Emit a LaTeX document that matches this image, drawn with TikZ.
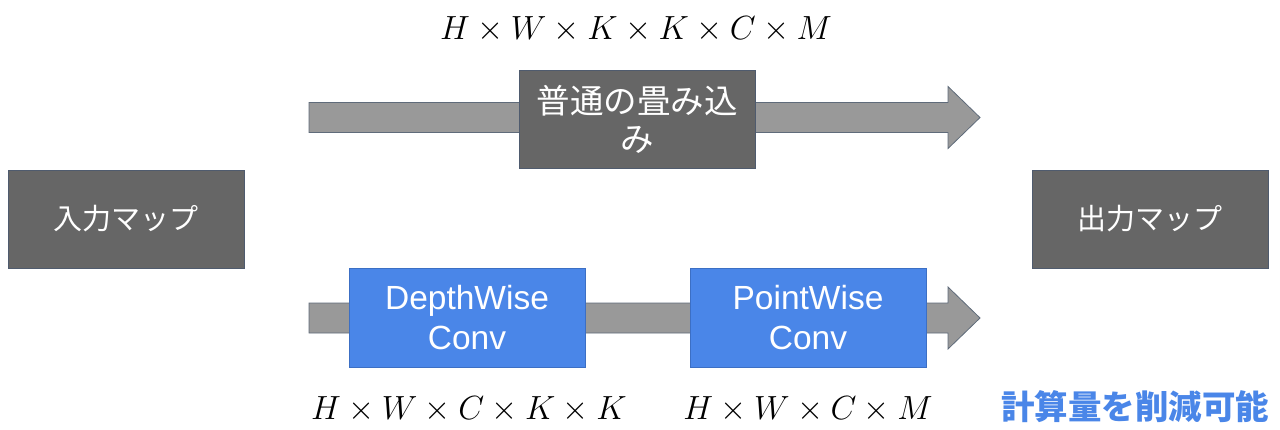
\documentclass[tikz,border=0pt]{standalone}
\usepackage{fix-cm}
\usepackage{fontspec}
\usetikzlibrary{calc}
\setsansfont{Liberation Sans}
\newfontfamily\jp{Noto Sans CJK JP}
\definecolor{boxgray}{HTML}{666666}
\definecolor{boxedge}{HTML}{4F5B6E}
\definecolor{arrowgray}{HTML}{999999}
\definecolor{arrowedge}{HTML}{5F6B7A}
\definecolor{gblue}{HTML}{4A86E8}
\definecolor{gblueedge}{HTML}{3C6FC4}
\begin{document}
\begin{tikzpicture}[x=1pt,y=-1pt,
  graybox/.style={draw=boxedge, line width=0.8pt, fill=boxgray, text=white,
    minimum width=236pt, minimum height=98pt, inner sep=0pt, align=center,
    font=\jp\fontsize{29}{38}\selectfont},
  bluebox/.style={draw=gblueedge, line width=0.8pt, fill=gblue, text=white,
    minimum width=236pt, minimum height=99pt, inner sep=0pt, align=center,
    font=\sffamily\fontsize{33.5}{40}\selectfont},
  blockarrow/.style={draw=arrowedge, line width=0.8pt, fill=arrowgray},
  mathlabel/.style={inner sep=0pt, font=\fontsize{33.5}{40}\selectfont}]
\useasboundingbox (0,0) rectangle (1280,429);

% connector coordinates
\coordinate (ts) at (309,117.5);
\coordinate (te) at (980,117.5);
\coordinate (bs) at (309,318);
\coordinate (be) at (980,318);

% block arrows
\draw[blockarrow] ($(ts)+(0,-15)$) -- ($(te)+(-32,-15)$) -- ($(te)+(-32,-31)$) -- (te)
  -- ($(te)+(-32,31)$) -- ($(te)+(-32,15)$) -- ($(ts)+(0,15)$) -- cycle;
\draw[blockarrow] ($(bs)+(0,-15)$) -- ($(be)+(-32,-15)$) -- ($(be)+(-32,-31)$) -- (be)
  -- ($(be)+(-32,31)$) -- ($(be)+(-32,15)$) -- ($(bs)+(0,15)$) -- cycle;

% boxes
\node[graybox] (in) at (126,219) {入力マップ};
\node[graybox] (out) at (1150,219) {出力マップ};
\node[graybox, font=\jp\fontsize{33.5}{38}\selectfont] (conv) at (637,119) {普通の畳み込\\み};
\node[bluebox] (dw) at (467,317.5) {DepthWise\\Conv};
\node[bluebox] (pw) at (808,317.5) {PointWise\\Conv};

% labels
\node[mathlabel] (lt) at (636,29) {$H\times W\times K\times K\times C\times M$};
\node[mathlabel] (lb1) at (469,409) {$H\times W\times C\times K\times K$};
\node[mathlabel] (lb2) at (808,409) {$H\times W\times C\times M$};
\node[inner sep=0pt, text=gblue, font=\jp\bfseries\fontsize{33.5}{40}\selectfont] (note) at (1135,407) {計算量を削減可能};
\end{tikzpicture}
\end{document}
